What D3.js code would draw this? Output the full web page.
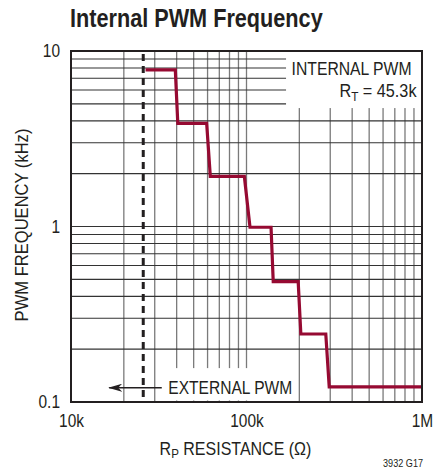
<!DOCTYPE html>
<html>
<head>
<meta charset="utf-8">
<script src="https://cdn.jsdelivr.net/npm/d3@7"></script>
<style>
  body { margin: 0; background: #fff; }
  svg text { font-family: "Liberation Sans", Arial, sans-serif; fill: #231f20; }
</style>
</head>
<body>
<svg id="chart" width="436" height="471"></svg>
<script>
// axis ticks (labels only at decades)
var resTicks = [1e4, 1e5, 1e6];
var resLabels = ["10k", "100k", "1M"];
var freqTicks = [0.1, 1, 10];
var freqLabels = ["0.1", "1", "10"];

// internal PWM step curve, R in ohms, F in kHz
var stepR = [26.6e3, 39.3e3, 40.6e3, 59.3e3, 62.2e3, 97.2e3, 104.7e3, 138e3, 142e3, 197e3, 204e3, 283e3, 296e3, 1e6];
var stepF = [7.8, 7.8, 3.87, 3.87, 1.93, 1.93, 0.99, 0.99, 0.485, 0.485, 0.244, 0.244, 0.122, 0.122];

// external PWM limit
var extLimitR = 25.8e3;
var arrowR = [32.9e3, 16.5e3];
var arrowF = 0.1206;

svg = d3.select("#chart");
var mLeft = 71, mRight = 422, mTop = 51, mBottom = 402;

var x = d3.scaleLog().domain([1e4, 1e6]).range([mLeft, mRight]);
var y = d3.scaleLog().domain([0.1, 10]).range([mBottom, mTop]);

// squeeze a text horizontally to a width, around its anchor x
function fit(t, w, ax) {
  var bw = t.node().getBBox().width;
  var sx = w / bw;
  t.attr("transform", "translate(" + ax + ",0) scale(" + sx + ",1) translate(" + (-ax) + ",0)");
}

// minor grid values 1..9 per decade
var xGrid = [], yGrid = [];
[1e4, 1e5].forEach(function(d) { for (var i = 2; i <= 9; i++) xGrid.push(d * i); });
[0.1, 1].forEach(function(d) { for (var i = 2; i <= 9; i++) yGrid.push(d * i); });
xGrid.push(1e5);
yGrid.push(1);

var grid = svg.append("g").attr("class", "grid");

grid.selectAll("line.v")
    .data(xGrid)
    .enter().append("line")
      .attr("class", "v")
      .attr("x1", function(d) { return x(d); })
      .attr("x2", function(d) { return x(d); })
      .attr("y1", mTop).attr("y2", mBottom)
      .attr("stroke", "#7a7a7a")
      .attr("stroke-width", 1.3);

grid.selectAll("line.h")
    .data(yGrid)
    .enter().append("line")
      .attr("class", "h")
      .attr("x1", mLeft).attr("x2", mRight)
      .attr("y1", function(d) { return y(d); })
      .attr("y2", function(d) { return y(d); })
      .attr("stroke", "#333")
      .attr("stroke-width", 1.1);

// white label boxes hiding the grid
svg.append("rect")
    .attr("x", x(168e3)).attr("y", mTop)
    .attr("width", mRight - x(168e3)).attr("height", y(4.73) - mTop)
    .attr("fill", "#fff");
svg.append("rect")
    .attr("x", x(30.5e3)).attr("y", y(0.156))
    .attr("width", x(191e3) - x(30.5e3)).attr("height", y(0.102) - y(0.156))
    .attr("fill", "#fff");

// external limit dashed line
svg.append("line")
    .attr("x1", x(extLimitR)).attr("x2", x(extLimitR))
    .attr("y1", mTop + 3).attr("y2", mBottom)
    .attr("stroke", "#231f20")
    .attr("stroke-width", 3)
    .attr("stroke-dasharray", "7,5");

// arrow (marker drawn pointing along the line direction)
svg.append("defs").append("marker")
    .attr("id", "arr")
    .attr("viewBox", "0 0 14 8")
    .attr("refX", 13).attr("refY", 4)
    .attr("markerWidth", 14).attr("markerHeight", 8)
    .attr("markerUnits", "userSpaceOnUse")
    .attr("orient", "auto")
  .append("path")
    .attr("d", "M0,0 L14,4 L0,8 L4,4 Z")
    .attr("fill", "#231f20");

svg.append("line")
    .attr("x1", x(arrowR[0])).attr("x2", x(arrowR[1]))
    .attr("y1", y(arrowF)).attr("y2", y(arrowF))
    .attr("stroke", "#231f20")
    .attr("stroke-width", 1.5)
    .attr("marker-end", "url(#arr)");

// step curve
var line = d3.line()
    .x(function(d, i) { return x(stepR[i]); })
    .y(function(d, i) { return y(stepF[i]); });

svg.append("path")
    .datum(stepR)
    .attr("d", line)
    .attr("fill", "none")
    .attr("stroke", "#960a32")
    .attr("stroke-width", 3.2)
    .attr("stroke-linejoin", "miter");

// frame
svg.append("rect")
    .attr("x", mLeft).attr("y", mTop)
    .attr("width", mRight - mLeft).attr("height", mBottom - mTop)
    .attr("fill", "none")
    .attr("stroke", "#231f20")
    .attr("stroke-width", 2);

// tick labels through d3 axes (no tick lines)
var xAxis = d3.axisBottom(x).tickValues(resTicks)
    .tickFormat(function(d, i) { return resLabels[i]; })
    .tickSize(0).tickPadding(12);
var gx = svg.append("g").attr("transform", "translate(0," + mBottom + ")").call(xAxis);
gx.select(".domain").remove();
gx.selectAll("text")
    .attr("font-size", 18).attr("fill", "#231f20")
    .style("font-family", "'Liberation Sans', Arial, sans-serif")
    .attr("transform", "scale(0.86,1)");

var yAxis = d3.axisLeft(y).tickValues(freqTicks)
    .tickFormat(function(d, i) { return freqLabels[i]; })
    .tickSize(0).tickPadding(11);
var gy = svg.append("g").attr("transform", "translate(" + mLeft + ",0)").call(yAxis);
gy.select(".domain").remove();
gy.selectAll("text")
    .attr("font-size", 18).attr("fill", "#231f20")
    .style("font-family", "'Liberation Sans', Arial, sans-serif")
    .attr("transform", "translate(-11,0) scale(0.86,1) translate(11,0)");

// title
var title = svg.append("text")
    .attr("x", 70).attr("y", 27)
    .attr("font-size", 25).attr("font-weight", "bold")
    .text("Internal PWM Frequency");
fit(title, 253, 70);

// annotations
var intl = svg.append("text")
    .attr("x", 411.5).attr("y", 75)
    .attr("text-anchor", "end").attr("font-size", 18)
    .text("INTERNAL PWM");
fit(intl, 120, 411.5);

var rt = svg.append("text")
    .attr("x", 416.5).attr("y", 96.7)
    .attr("text-anchor", "end").attr("font-size", 18);
rt.append("tspan").text("R");
rt.append("tspan").attr("font-size", 13).attr("dy", 4).text("T");
rt.append("tspan").attr("dy", -4).text(" = 45.3k");
fit(rt, 78, 416.5);

var ext = svg.append("text")
    .attr("x", 168.3).attr("y", 394)
    .attr("font-size", 18)
    .text("EXTERNAL PWM");
fit(ext, 124, 168.3);

// axis titles
var xt = svg.append("text")
    .attr("x", 235.5).attr("y", 455)
    .attr("text-anchor", "middle").attr("font-size", 18);
xt.append("tspan").text("R");
xt.append("tspan").attr("font-size", 13).attr("dy", 3).text("P");
xt.append("tspan").attr("dy", -3).text(" RESISTANCE (\u03A9)");
fit(xt, 152, 235.5);

var yt = svg.append("g")
    .attr("transform", "translate(28.3,225) rotate(-90)")
  .append("text")
    .attr("x", 0).attr("y", 0)
    .attr("text-anchor", "middle").attr("font-size", 18)
    .text("PWM FREQUENCY (kHz)");
fit(yt, 193, 0);

var code = svg.append("text")
    .attr("x", 423).attr("y", 467)
    .attr("text-anchor", "end").attr("font-size", 11)
    .text("3932 G17");
fit(code, 40, 423);
</script>
</body>
</html>
